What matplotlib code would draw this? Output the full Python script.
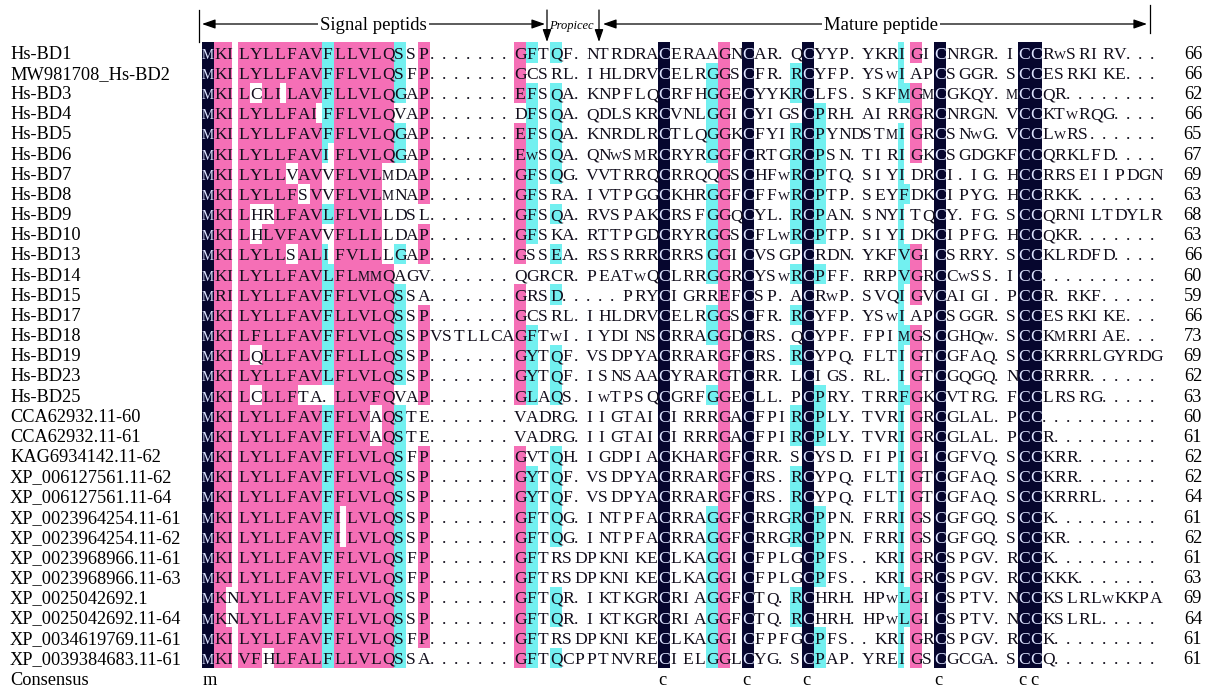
import matplotlib
matplotlib.use("Agg")
import matplotlib.pyplot as plt
from matplotlib.patches import Rectangle
from collections import Counter

# ---------------- data ----------------
names = [
    "Hs-BD1", "MW981708_Hs-BD2", "Hs-BD3", "Hs-BD4", "Hs-BD5", "Hs-BD6",
    "Hs-BD7", "Hs-BD8", "Hs-BD9", "Hs-BD10", "Hs-BD13", "Hs-BD14",
    "Hs-BD15", "Hs-BD17", "Hs-BD18", "Hs-BD19", "Hs-BD23", "Hs-BD25",
    "CCA62932.11-60", "CCA62932.11-61", "KAG6934142.11-62",
    "XP_006127561.11-62", "XP_006127561.11-64", "XP_0023964254.11-61",
    "XP_0023964254.11-62", "XP_0023968966.11-61", "XP_0023968966.11-63",
    "XP_0025042692.1", "XP_0025042692.11-64", "XP_0034619769.11-61",
    "XP_0039384683.11-61",
]

sequences = [
    "MKILYLLFAVFLLVLQSSP" "......." "GFTQF" "." "NTRDRACERAAGNCAR" "." "QCYYP" "." "YKRIGICNRGR" "." "ICCRWSRIRV...",
    "MKILYLLFAVFFLVLQSFP" "......." "GCSRL" "." "IHLDRVCELRGGSCFR" "." "RCYFP" "." "YSWIAPCSGGR" "." "SCCESRKIKE...",
    "MKILCLILAVFLLVLQGAP" "......." "EFSQA" "." "KNPFLQCRFHGGECYY" "K" "RCLFS" "." "SKFMGMCGKQY" "." "MCCQR........",
    "MKILYLLFAIFFLVLQVAP" "......." "DFSQA" "." "QDLSKRCVNLGGICYI" "G" "SCPRH" "." "AIRRGRCNRGN" "." "VCCKTWRQG....",
    "MKILYLLFAVFFLVLQGAP" "......." "EFSQA" "." "KNRDLRCTLQGGKCFY" "I" "RCPYN" "D" "STMIGRCSNWG" "." "VCCLWRS......",
    "MKILYLLFAVIFLVLQGAP" "......." "EWSQA" "." "QNWSMRCRYRGGFCRT" "G" "RCPSN" "." "TIRIGKCSGDG" "K" "FCCQRKLFD....",
    "MKILYLLVAVVFLVLMDAP" "......." "GFSQG" "." "VVTRRQCRRQQGSCHF" "W" "RCPTQ" "." "SIYIDRCI.IG" "." "HCCRRSEIIPDGN",
    "MKILYLLFSVVFLVLMNAP" "......." "GFSRA" "." "IVTPGGCKHRGGFCFF" "W" "RCPTP" "." "SEYFDKCIPYG" "." "HCCRKK.......",
    "MKILHRLFAVLFLVLLDSL" "......." "GFSQA" "." "RVSPAKCRSFGGQCYL" "." "RCPAN" "." "SNYITQCY.FG" "." "SCCQRNILTDYLR",
    "MKILHLVFAVVFLLLLDAP" "......." "GFSKA" "." "RTTPGDCRYRGGSCFL" "W" "RCPTP" "." "SIYIDKCIPFG" "." "HCCQKR.......",
    "MKILYLLSALIFVLLLGAP" "......." "GSSEA" "." "RSSRRRCRRSGGICVS" "G" "PCRDN" "." "YKFVGICSRRY" "." "SCCKLRDFD....",
    "MKILYLLFAVLFLMMQAGV" "......." "QGRCR" "." "PEATWQCLRRGGRCYS" "W" "RCPFF" "." "RRPVGRCCWSS" "." "ICC..........",
    "MRILYLLFAVFFLVLQSSA" "......." "GRSD." "." "...PRYCIGRREFCSP" "." "ACRWP" "." "SVQIGVCAIGI" "." "PCCR.RKF.....",
    "MKILYLLFAVFLLVLQSSP" "......." "GCSRL" "." "IHLDRVCELRGGSCFR" "." "RCYFP" "." "YSWIAPCSGGR" "." "SCCESRKIKE...",
    "MKILFLLFAVFFLVLQSSP" "VSTLLCA" "GFTWI" "." "IYDINSCRRAGGDCRS" "." "QCYPF" "." "FPIMGSCGHQW" "." "SCCKMRRIAE...",
    "MKILQLLFAVFFLLLQSSP" "......." "GYTQF" "." "VSDPYACRRARGFCRS" "." "RCYPQ" "." "FLTIGTCGFAQ" "." "SCCKRRRLGYRDG",
    "MKILYLLFAVLFLVLQSSP" "......." "GYTQF" "." "ISNSAACYRARGTCRR" "." "LCIGS" "." "RL.IGTCGQGQ" "." "NCCRRRR......",
    "MKILCLLFTA.LLVFQVAP" "......." "GLAQS" "." "IWTPSQCGRFGGECLL" "." "PCPRY" "." "TRRFGKCVTRG" "." "FCCLRSRG.....",
    "MKILYLLFAVFFLVAQSTE" "......." "VADRG" "." "IIGTAICIRRRGACFP" "I" "RCPLY" "." "TVRIGRCGLAL" "." "PCC..........",
    "MKILYLLFAVFFLVAQSTE" "......." "VADRG" "." "IIGTAICIRRRGACFP" "I" "RCPLY" "." "TVRIGRCGLAL" "." "PCCR.........",
    "MKILYLLFAVFFLVLQSFP" "......." "GVTQH" "." "IGDPIACKHARGFCRR" "." "SCYSD" "." "FIPIGICGFVQ" "." "SCCKRR.......",
    "MKILYLLFAVFFLVLQSSP" "......." "GYTQF" "." "VSDPYACRRARGFCRS" "." "RCYPQ" "." "FLTIGTCGFAQ" "." "SCCKRR.......",
    "MKILYLLFAVFFLVLQSSP" "......." "GYTQF" "." "VSDPYACRRARGFCRS" "." "RCYPQ" "." "FLTIGTCGFAQ" "." "SCCKRRRL.....",
    "MKILYLLFAVFILVLQSSP" "......." "GFTQG" "." "INTPFACRRAGGFCRR" "G" "RCPPN" "." "FRRIGSCGFGQ" "." "SCCK.........",
    "MKILYLLFAVFILVLQSSP" "......." "GFTQG" "." "INTPFACRRAGGFCRR" "G" "RCPPN" "." "FRRIGSCGFGQ" "." "SCCKR........",
    "MKILYLLFAVFFLVLQSFP" "......." "GFTRS" "D" "PKNIKECLKAGGICFP" "L" "GCPFS" "." ".KRIGRCSPGV" "." "RCCK.........",
    "MKILYLLFAVFFLVLQSFP" "......." "GFTRS" "D" "PKNIKECLKAGGICFP" "L" "GCPFS" "." ".KRIGRCSPGV" "." "RCCKKK.......",
    "MKNLYLLFAVFFLVLQSSP" "......." "GFTQR" "." "IKTKGRCRIAGGFCTQ" "." "RCHRH" "." "HPWLGICSPTV" "." "NCCKSLRLWKKPA",
    "MKNLYLLFAVFFLVLQSSP" "......." "GFTQR" "." "IKTKGRCRIAGGFCTQ" "." "RCHRH" "." "HPWLGICSPTV" "." "NCCKSLRL.....",
    "MKILYLLFAVFFLVLQSFP" "......." "GFTRS" "D" "PKNIKECLKAGGICFP" "F" "GCPFS" "." ".KRIGRCSPGV" "." "RCCK.........",
    "MKIVFHLFALFLLVLQSSA" "......." "GFTQC" "P" "PTNVRECIELGGLCYG" "." "SCPAP" "." "YREIGSCGCGA" "." "SCCQ.........",
]

lengths = [66, 66, 62, 66, 65, 67, 69, 63, 68, 63, 66, 60, 59, 66, 73, 69, 62, 63,
           60, 61, 62, 62, 64, 61, 62, 61, 63, 69, 64, 61, 61]

consensus_label = "Consensus"
region_labels = ["Signal peptids", "Propicec", "Mature peptide"]

# ---------------- style ----------------
NAVY = "#06062e"
PINK = "#f56fb6"
CYAN = "#72f0f0"
FONT = "Liberation Serif"
SIMILAR = ["LI", "LV", "LM", "IV", "IM", "VM", "FL", "FI", "FM", "FY", "FW", "YW",
           "KR", "SG", "QE", "QD", "GE"]

W_PX, H_PX = 1214, 688
X0, CELL = 202.0, 12.0      # left edge of column 1, column width (px)
Y0, ROWH = 52.5, 20.17      # centre of first row, row pitch (px)

NCOL = max(len(s) for s in sequences)
seqs = [s.ljust(NCOL, ".")[:NCOL] for s in sequences]
nseq = len(seqs)

fig = plt.figure(figsize=(W_PX / 100, H_PX / 100), dpi=100)
ax = fig.add_axes([0, 0, 1, 1])
ax.set_xlim(-X0 / CELL, (W_PX - X0) / CELL)
ax.set_ylim((H_PX - Y0) / ROWH, -Y0 / ROWH)
ax.axis("off")


def ry(px):
    return (px - Y0) / ROWH


def ux(px):
    return (px - X0) / CELL


sim = set()
for a, b in SIMILAR:
    sim.add((a, b))
    sim.add((b, a))

# ---------------- shading ----------------
cell_color = [[None] * NCOL for _ in range(nseq)]
consensus = []
for c in range(NCOL):
    col = [s[c] for s in seqs]
    cnt = Counter(ch for ch in col if ch != ".")
    cons_char = " "
    if cnt:
        cons, k = cnt.most_common(1)[0]
        frac = k / nseq
        color = None
        if frac == 1.0:
            color = NAVY
            cons_char = cons.lower()
        elif frac >= 0.75:
            color = PINK
        elif frac >= 0.5:
            color = CYAN
        if color:
            for i, ch in enumerate(col):
                if ch == cons or (ch, cons) in sim:
                    cell_color[i][c] = color
    consensus.append(cons_char)

for c in range(NCOL):
    i = 0
    while i < nseq:
        colr = cell_color[i][c]
        if colr is None:
            i += 1
            continue
        wdt = 0.5 if seqs[i][c] == "I" else 1.0
        j = i
        while (j + 1 < nseq and cell_color[j + 1][c] == colr
               and (0.5 if seqs[j + 1][c] == "I" else 1.0) == wdt):
            j += 1
        ax.add_patch(Rectangle((c, i - 0.5), wdt, (j - i + 1), facecolor=colr,
                               edgecolor="none", linewidth=0, zorder=1))
        i = j + 1

# ---------------- residues ----------------
BASE = 0.31
SIZE = {"M": 9.8, "W": 9.2}
for i, s in enumerate(seqs):
    for c, ch in enumerate(s):
        fs = SIZE.get(ch, 12.6)
        tc = "#dde4ff" if cell_color[i][c] == NAVY else "#120e1c"
        ax.text(c + 0.01, i + BASE, ch, fontsize=fs, family=FONT, ha="left",
                va="baseline", color=tc, zorder=3)
    ax.text(ux(10), i + BASE, names[i], fontsize=13.2, family=FONT, ha="left",
            va="baseline", color="black")
    ax.text(ux(1202), i + BASE, str(lengths[i]), fontsize=13.2, family=FONT,
            ha="right", va="baseline", color="black")

cy = ry(685)
ax.text(ux(10), cy, consensus_label, fontsize=13.2, family=FONT, ha="left",
        va="baseline", color="black")
for c, ch in enumerate(consensus):
    if ch.strip():
        ax.text(c + 0.02, cy, ch, fontsize=13.2, family=FONT, ha="left",
                va="baseline", color="black")

# ---------------- header ----------------
yl = ry(24)
arrow_kw = dict(arrowstyle="<|-|>,head_length=0.8,head_width=0.28", color="black",
                lw=0.9, shrinkA=0, shrinkB=0, mutation_scale=10)
ax.annotate("", xy=(ux(545), yl), xytext=(ux(202), yl), arrowprops=arrow_kw)
ax.annotate("", xy=(ux(1147), yl), xytext=(ux(603), yl), arrowprops=arrow_kw)
down_kw = dict(arrowstyle="-|>,head_length=0.75,head_width=0.26", color="black",
               lw=0.9, shrinkA=0, shrinkB=0, mutation_scale=10)
for xp in (547, 599):
    ax.annotate("", xy=(ux(xp), ry(42)), xytext=(ux(xp), ry(10)), arrowprops=down_kw)
ax.plot([ux(199), ux(199)], [ry(10), ry(42)], color="black", lw=0.9)
ax.plot([ux(1150), ux(1150)], [ry(5), ry(33)], color="black", lw=0.9)

box = dict(boxstyle="square,pad=0.12", facecolor="white", edgecolor="none")
ax.text(ux(373.5), ry(30), region_labels[0], fontsize=13.5, family=FONT,
        ha="center", va="baseline", bbox=box, zorder=4)
ax.text(ux(881), ry(30), region_labels[2], fontsize=13.5, family=FONT,
        ha="center", va="baseline", bbox=box, zorder=4)
ax.text(ux(571), ry(28.5), region_labels[1], fontsize=9, family=FONT,
        style="italic", ha="center", va="baseline", zorder=4)

fig.savefig("out.png", dpi=100, facecolor="white")
